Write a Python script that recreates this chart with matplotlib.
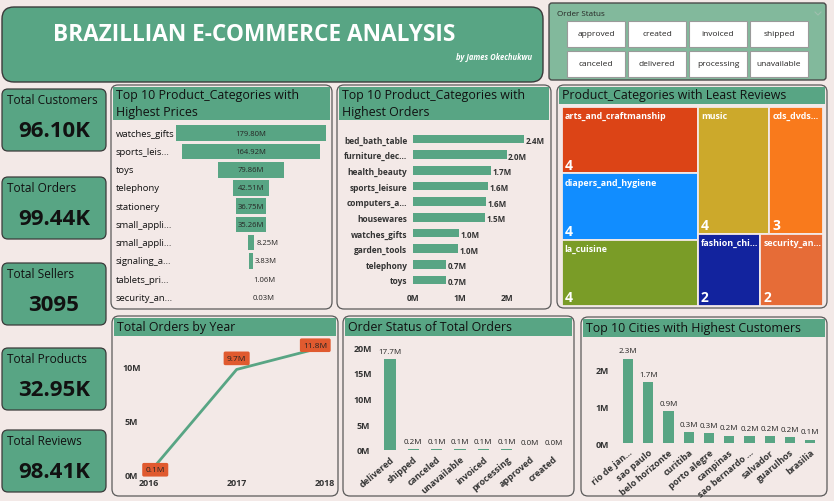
import matplotlib
matplotlib.use('Agg')
import matplotlib.pyplot as plt
import matplotlib.transforms as mtransforms
from matplotlib.patches import FancyBboxPatch, Rectangle

plt.rcParams['font.family'] = ['Open Sans', 'DejaVu Sans']

# ---- data ----
title = 'BRAZILLIAN E-COMMERCE ANALYSIS'
author = 'by James Okechukwu'

status_buttons = ['approved', 'created', 'invoiced', 'shipped',
                  'canceled', 'delivered', 'processing', 'unavailable']

kpi_names = ['Total Customers', 'Total Orders', 'Total Sellers', 'Total Products', 'Total Reviews']
kpi_values = ['96.10K', '99.44K', '3095', '32.95K', '98.41K']

price_cats = ['watches_gifts', 'sports_leis...', 'toys', 'telephony', 'stationery',
              'small_appli...', 'small_appli...', 'signaling_a...', 'tablets_pri...', 'security_an...']
price_vals = [179.80, 164.92, 79.86, 42.51, 36.75, 35.26, 8.25, 3.83, 1.06, 0.03]

order_cats = ['bed_bath_table', 'furniture_dec...', 'health_beauty', 'sports_leisure', 'computers_a...',
              'housewares', 'watches_gifts', 'garden_tools', 'telephony', 'toys']
order_vals = [2.36, 1.99, 1.66, 1.60, 1.56, 1.53, 0.98, 0.96, 0.70, 0.70]

review_cats = ['arts_and_craftmanship', 'diapers_and_hygiene', 'la_cuisine', 'music',
               'cds_dvds...', 'fashion_chi...', 'security_an...']
review_vals = [4, 4, 4, 4, 3, 2, 2]
review_colors = ['#DC4416', '#118DFF', '#7A9C27', '#CCA92B', '#F97A1C', '#12239E', '#E66C37']

years = [2016, 2017, 2018]
year_orders = [0.1, 9.7, 11.8]

status_names = ['delivered', 'shipped', 'canceled', 'unavailable', 'invoiced',
                'processing', 'approved', 'created']
status_vals = [17.7, 0.2, 0.12, 0.12, 0.11, 0.1, 0.02, 0.01]

cities = ['rio de jan...', 'sao paulo', 'belo horizonte', 'curitiba', 'porto alegre',
          'campinas', 'sao bernardo ...', 'salvador', 'guarulhos', 'brasilia']
city_vals = [2.31, 1.66, 0.88, 0.30, 0.27, 0.21, 0.19, 0.19, 0.16, 0.10]

# ---- style ----
W, H = 834, 502
page = '#F3E9E7'
green = '#58A584'
green_light = '#82B99C'
dark = '#252423'
edge = '#5a5a5a'
lab_orange = '#E05A2F'

fig = plt.figure(figsize=(W / 100, H / 100), dpi=100)
fig.patch.set_facecolor(page)

bg = fig.add_axes([0, 0, 1, 1])
bg.set_xlim(0, W)
bg.set_ylim(H, 0)
bg.axis('off')


def px_axes(x0, y0, x1, y1):
	ax = fig.add_axes([x0 / W, 1 - y1 / H, (x1 - x0) / W, (y1 - y0) / H])
	ax.patch.set_alpha(0)
	for s in ax.spines.values():
		s.set_visible(False)
	return ax


def rbox(x0, y0, x1, y1, fc, ec=edge, r=8, lw=0.9):
	p = FancyBboxPatch((x0, y0), x1 - x0, y1 - y0, boxstyle='round,pad=0,rounding_size=%s' % r,
	                   fc=fc, ec=ec, lw=lw)
	bg.add_patch(p)


def panel(x0, y0, x1, y1, hdr_bottom, lines):
	rbox(x0, y0, x1, y1, page, r=7)
	bg.add_patch(Rectangle((x0 + 2, y0 + 1.5), x1 - x0 - 4, hdr_bottom - y0 - 1.5, fc=green, ec='none'))
	n = len(lines)
	step = (hdr_bottom - y0) / n
	for i, t in enumerate(lines):
		bg.text(x0 + 5, y0 + step * (i + 0.5) + 0.5, t, fontsize=8.9, color='#111111', va='center', ha='left')


# title box
rbox(2, 8, 543, 83, green, ec='#3a3a3a', r=12, lw=1)
bg.text(254, 35, title, fontsize=16.3, fontweight='bold', color='white', ha='center', va='center')
bg.text(532, 57, author, fontsize=5.5, fontweight='bold', style='italic', color='white', ha='right', va='center')

# slicer
rbox(549, 4, 826, 81, green_light, ec='#4a4a4a', r=3, lw=1)
bg.text(557, 14, 'Order Status', fontsize=5.8, color=dark, ha='left', va='center')
bg.plot([815, 818, 821], [13, 16, 13], color='#9fbfae', lw=0.8)
col_x = [567, 628, 689, 750]
row_y = [22, 52]
for i, b in enumerate(status_buttons):
	cx = col_x[i % 4]
	cy = row_y[i // 4]
	bg.add_patch(Rectangle((cx, cy), 58, 25.5, fc='white', ec='#9a9a9a', lw=0.8))
	bg.text(cx + 29, cy + 13, b, fontsize=6, color=dark, ha='center', va='center')

# KPI cards
card_y = [90, 178, 264, 349, 431]
for name, val, y in zip(kpi_names, kpi_values, card_y):
	rbox(2, y, 106, y + 62, green, ec='#3a3a3a', r=6, lw=0.9)
	bg.text(7, y + 11, name, fontsize=8.6, color='#111111', ha='left', va='center')
	bg.text(54, y + 42, val, fontsize=16, fontweight='bold', color='#111111', ha='center', va='center')

# panels
panel(111, 86, 332, 310, 121, ['Top 10 Product_Categories with', 'Highest Prices'])
panel(337, 86, 551, 310, 121, ['Top 10 Product_Categories with', 'Highest Orders'])
panel(557, 86, 827, 309, 105, ['Product_Categories with Least Reviews'])
panel(112, 317, 338, 497, 337, ['Total Orders by Year'])
panel(343, 317, 574, 497, 337, ['Order Status of Total Orders'])
panel(581, 318, 827, 497, 338, ['Top 10 Cities with Highest Customers'])

# --- funnel: highest prices ---
ax1 = px_axes(176, 125.2, 326, 307.4)
n1 = len(price_vals)
ax1.barh(range(n1), price_vals, left=[-v / 2 for v in price_vals], height=0.86, color=green)
ax1.set_xlim(-89.9, 89.9)
ax1.set_ylim(n1 - 0.5, -0.5)
ax1.set_xticks([])
ax1.set_yticks([])
tr1 = mtransforms.blended_transform_factory(bg.transData, ax1.transData)
for i, (c, v) in enumerate(zip(price_cats, price_vals)):
	ax1.text(116, i, c, transform=tr1, fontsize=6.8, color='#111111', ha='left', va='center')
	lab = '%.2fM' % v
	if v > 30:
		ax1.text(0, i, lab, fontsize=5.5, color=dark, ha='center', va='center')
	else:
		ax1.text(v / 2 + 2.5, i, lab, fontsize=5.5, color=dark, ha='left', va='center')

# --- bars: highest orders ---
ax2 = px_axes(413, 132.2, 530.5, 288.8)
n2 = len(order_vals)
ax2.barh(range(n2), order_vals, height=0.55, color=green)
ax2.set_xlim(0, 2.5)
ax2.set_ylim(n2 - 0.5, -0.5)
ax2.set_yticks(range(n2), order_cats)
ax2.set_xticks([0, 1, 2], ['0M', '1M', '2M'])
ax2.tick_params(length=0, labelsize=6, labelcolor='#333333', pad=4)
for t in ax2.get_yticklabels() + ax2.get_xticklabels():
	t.set_fontweight('bold')
for i, v in enumerate(order_vals):
	ax2.text(v + 0.03, i + 0.1, '%.1fM' % v, fontsize=5.8, fontweight='bold', color='#333333', ha='left', va='center')

# --- treemap: least reviews (squarified, golden ratio like d3) ---
def squarify(values, x0, y0, x1, y1, ratio=1.618):
	rects = []
	value = float(sum(values))
	i0 = 0
	n = len(values)
	while i0 < n:
		dx, dy = x1 - x0, y1 - y0
		i1 = i0 + 1
		s = values[i0]
		mn = mx = s
		alpha = max(dy / dx, dx / dy) / (value * ratio)
		beta = s * s * alpha
		best = max(mx / beta, beta / mn)
		while i1 < n:
			v = values[i1]
			s2 = s + v
			mn2, mx2 = min(mn, v), max(mx, v)
			beta = s2 * s2 * alpha
			nr = max(mx2 / beta, beta / mn2)
			if nr > best:
				break
			s, mn, mx, best = s2, mn2, mx2, nr
			i1 += 1
		row = values[i0:i1]
		if dx < dy:
			h = dy * s / value
			xx = x0
			for v in row:
				w = dx * v / s
				rects.append((xx, y0, w, h))
				xx += w
			y0 += h
		else:
			w = dx * s / value
			yy = y0
			for v in row:
				h = dy * v / s
				rects.append((x0, yy, w, h))
				yy += h
			x0 += w
		value -= s
		i0 = i1
	return rects

tw, th = 261.0, 198.4
ax3 = px_axes(561.7, 108.3, 561.7 + tw, 108.3 + th)
ax3.set_xlim(0, tw)
ax3.set_ylim(th, 0)
ax3.set_xticks([])
ax3.set_yticks([])
for (x, y, w, h), c, v, col in zip(squarify(review_vals, 0, 0, tw, th), review_cats, review_vals, review_colors):
	ax3.add_patch(Rectangle((x, y), w, h, fc=col, ec=page, lw=1.3))
	ax3.text(x + 3, y + 4, c, fontsize=6.4, fontweight='bold', color='white', ha='left', va='top')
	ax3.text(x + 3, y + h - 1.5, str(v), fontsize=10, fontweight='bold', color='white', ha='left', va='bottom')

# --- line: orders by year ---
ax4 = px_axes(148.3, 340, 325, 476)
ax4.plot(years, year_orders, color=green, lw=2)
ax4.set_xlim(years[0], years[-1])
ax4.set_ylim(0, 12.5)
ax4.set_xticks(years, [str(y) for y in years])
ax4.set_yticks([0, 5, 10], ['0M', '5M', '10M'])
ax4.tick_params(axis='x', length=0, labelsize=6.4, pad=2)
ax4.tick_params(axis='y', length=0, labelsize=6.4, pad=12)
for t in ax4.get_yticklabels():
	t.set_ha('center')
for t in ax4.get_yticklabels() + ax4.get_xticklabels():
	t.set_fontweight('bold')
	t.set_color('#333333')
lab_off = [(5, 3), (0, 8), (-7, 1)]
for x, y, off in zip(years, year_orders, lab_off):
	ax4.annotate('%.1fM' % y, (x, y), xytext=off, textcoords='offset points', ha='center', va='center',
	             fontsize=6, color=dark, annotation_clip=False,
	             bbox=dict(boxstyle='round,pad=0.4,rounding_size=0.2', fc=lab_orange, ec='none'))

# --- bars: order status ---
ax5 = px_axes(378.3, 348.3, 565, 451)
ax5.bar(range(len(status_vals)), status_vals, width=0.49, color=green)
ax5.set_xlim(-0.5, len(status_vals) - 0.5)
ax5.set_ylim(0, 20)
ax5.set_yticks([0, 5, 10, 15, 20], ['0M', '5M', '10M', '15M', '20M'])
ax5.set_xticks(range(len(status_names)), status_names, rotation=40, ha='right', rotation_mode='anchor')
ax5.tick_params(axis='x', length=0, labelsize=6.5, pad=3)
ax5.tick_params(axis='y', length=0, labelsize=6.4, pad=11)
for t in ax5.get_yticklabels():
	t.set_ha('center')
for t in ax5.get_yticklabels() + ax5.get_xticklabels():
	t.set_fontweight('bold')
	t.set_color('#333333')
for i, v in enumerate(status_vals):
	ax5.annotate('%.1fM' % v, (i, v), xytext=(0, 3), textcoords='offset points', ha='center', va='bottom',
	             fontsize=5.8, color=dark, annotation_clip=False)

# --- bars: top cities ---
ax6 = px_axes(617.9, 352.6, 820.4, 444.3)
ax6.bar(range(len(city_vals)), city_vals, width=0.5, color=green)
ax6.set_xlim(-0.5, len(city_vals) - 0.5)
ax6.set_ylim(0, 2.5)
ax6.set_yticks([0, 1, 2], ['0M', '1M', '2M'])
ax6.set_xticks(range(len(cities)), cities, rotation=40, ha='right', rotation_mode='anchor')
ax6.tick_params(axis='x', length=0, labelsize=6.5, pad=3)
ax6.tick_params(axis='y', length=0, labelsize=6.4, pad=11)
for t in ax6.get_yticklabels():
	t.set_ha('center')
for t in ax6.get_yticklabels() + ax6.get_xticklabels():
	t.set_fontweight('bold')
	t.set_color('#333333')
for i, v in enumerate(city_vals):
	ax6.annotate('%.1fM' % v, (i, v), xytext=(0, 3), textcoords='offset points', ha='center', va='bottom',
	             fontsize=5.8, color=dark, annotation_clip=False)

plt.savefig('out.png', dpi=100, facecolor=page)
